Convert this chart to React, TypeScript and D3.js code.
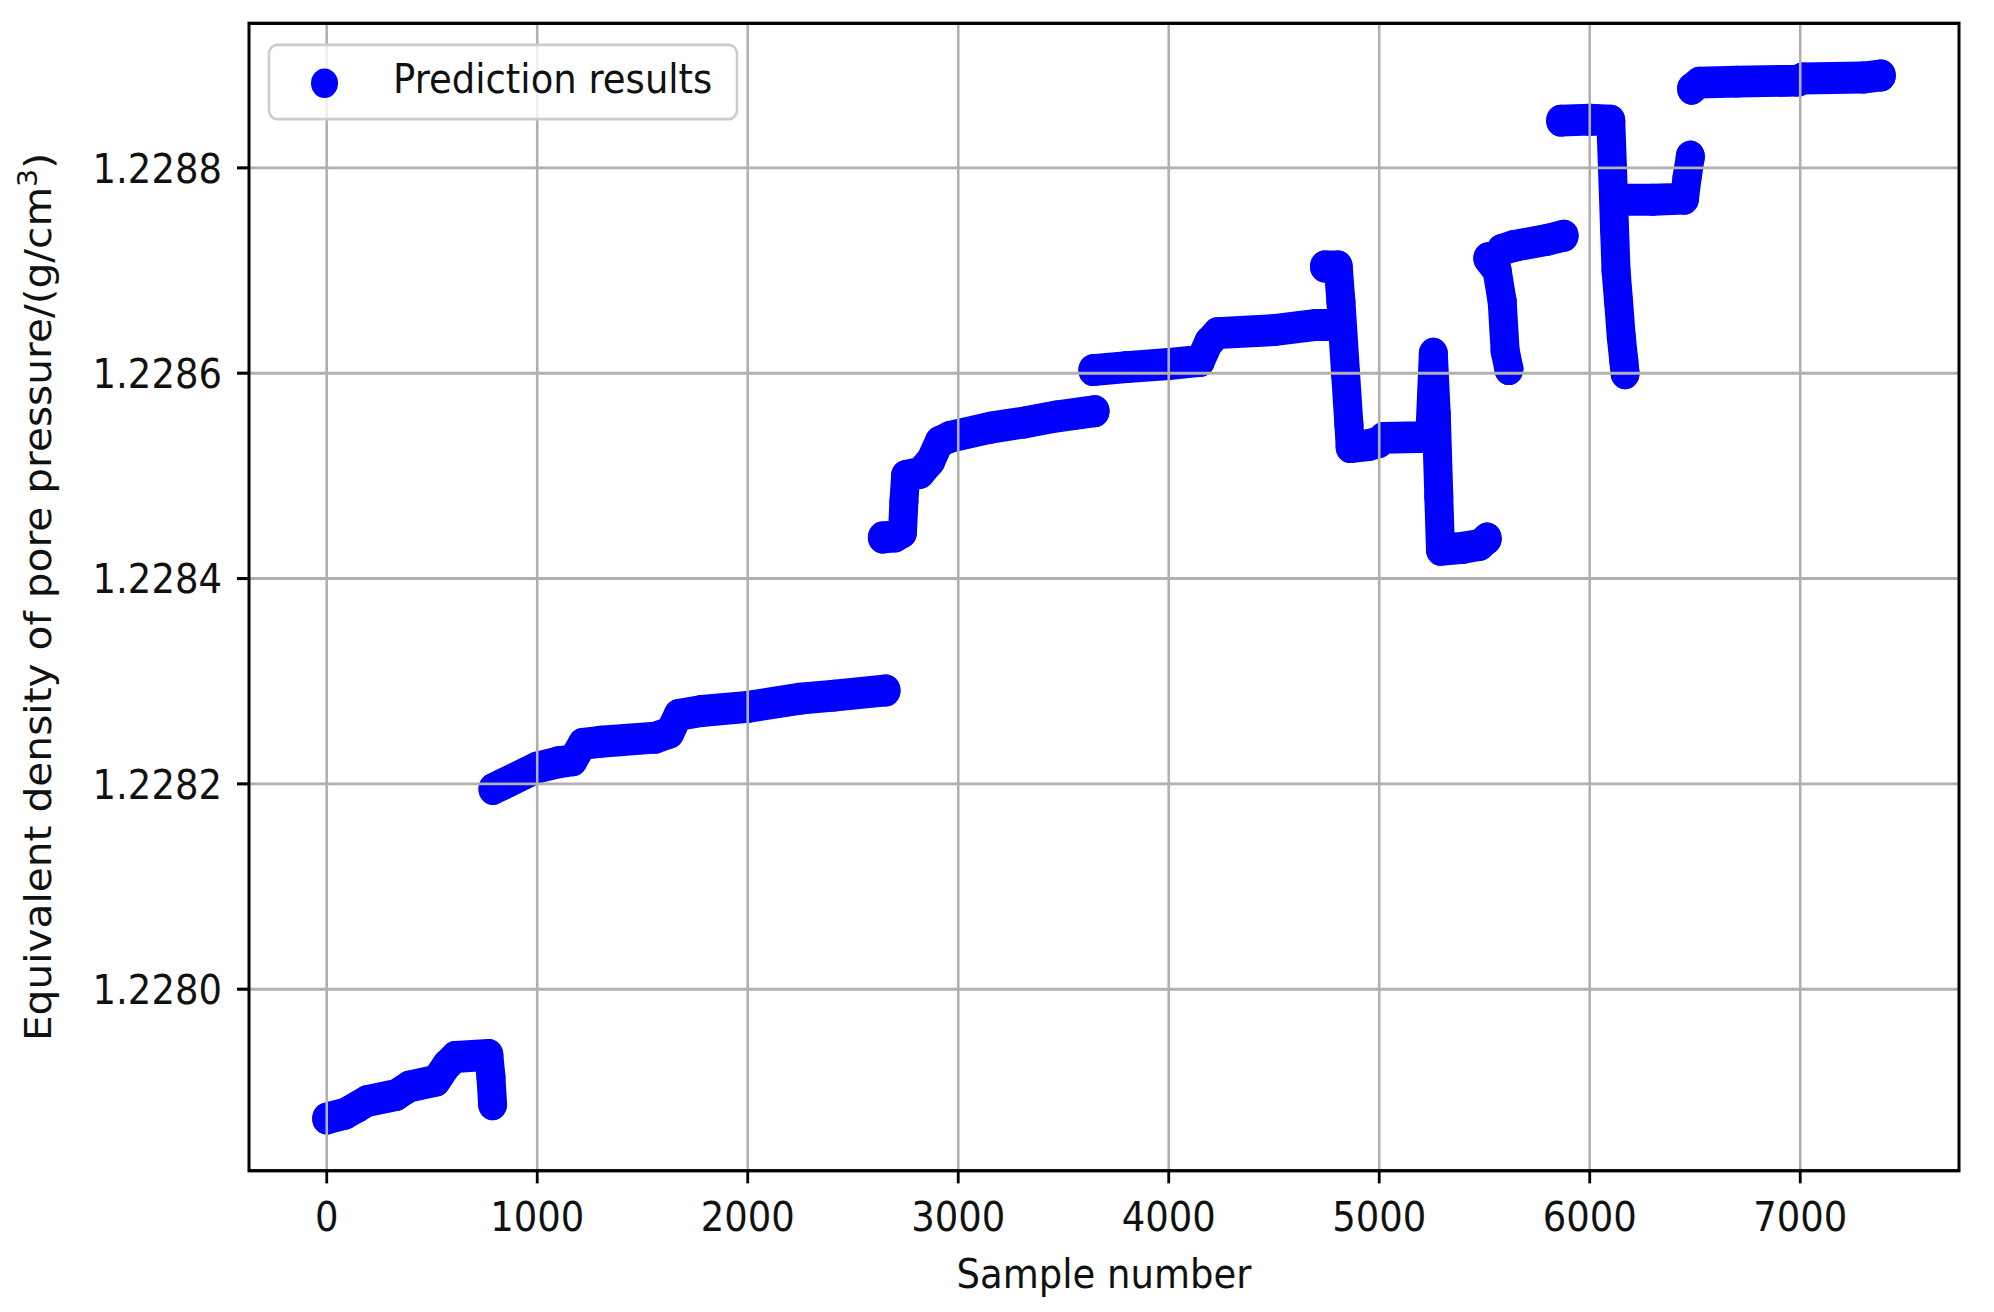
import React from "react";
import * as d3 from "d3";

// ---- data: [sample number, equivalent density (g/cm3)] ----
const segmentA: [number, number][] = [
  [0, 1.227874], [90, 1.227879], [150, 1.227886], [190, 1.227891], [330, 1.227897],
  [390, 1.227905], [520, 1.227911], [570, 1.227926], [610, 1.227934], [770, 1.227936],
  [780, 1.227915], [788, 1.227888],
];
const segmentB: [number, number][] = [
  [790, 1.228195], [830, 1.228199], [1000, 1.228216], [1100, 1.228221], [1170, 1.228223],
  [1215, 1.228239], [1300, 1.228241], [1560, 1.228245], [1630, 1.22825], [1670, 1.228267],
  [1780, 1.228271], [2000, 1.228275], [2250, 1.228283], [2410, 1.228286], [2657, 1.228291],
];
const segmentC: [number, number][] = [
  [2640, 1.22844], [2700, 1.228441], [2735, 1.228445], [2742, 1.228475], [2750, 1.2285],
  [2820, 1.228503], [2870, 1.228515], [2910, 1.228533], [2960, 1.228538], [3154, 1.228547],
  [3313, 1.228552], [3471, 1.228558], [3650, 1.228563],
];
const segmentD: [number, number][] = [
  [3640, 1.228603], [3800, 1.228606], [4000, 1.228609], [4150, 1.228612], [4190, 1.22863],
  [4230, 1.228639], [4500, 1.228642], [4700, 1.228647], [4820, 1.228647],
];
const segmentE: [number, number][] = [
  [4740, 1.228704], [4805, 1.228704], [4818, 1.22867], [4840, 1.2286], [4856, 1.22855],
  [4862, 1.228528], [4950, 1.22853], [5000, 1.228533], [5020, 1.228537], [5240, 1.228538],
  [5257, 1.228619], [5271, 1.22856], [5283, 1.22848], [5291, 1.228428], [5400, 1.22843],
  [5480, 1.228433], [5513, 1.228439],
];
const segmentF1: [number, number][] = [
  [5516, 1.228712], [5560, 1.2287], [5584, 1.22867], [5598, 1.228622], [5616, 1.228604],
];
const segmentF2: [number, number][] = [
  [5580, 1.22872], [5640, 1.228724], [5800, 1.22873], [5878, 1.228734],
];
const segmentG1: [number, number][] = [
  [5862, 1.228846], [6000, 1.228847], [6100, 1.228846], [6108, 1.2288], [6118, 1.22874],
  [6125, 1.2287], [6137, 1.22867], [6150, 1.228635], [6162, 1.228612], [6168, 1.2286],
];
const segmentG2: [number, number][] = [
  [6118, 1.228769], [6300, 1.228769], [6450, 1.22877], [6462, 1.22879], [6478, 1.228811],
];
const segmentH: [number, number][] = [
  [6484, 1.228877], [6520, 1.228883], [6700, 1.228884], [6990, 1.228885], [7010, 1.228887],
  [7300, 1.228888], [7385, 1.22889],
];
const segments = [
  segmentA, segmentB, segmentC, segmentD, segmentE,
  segmentF1, segmentF2, segmentG1, segmentG2, segmentH,
];

const xTicks = [0, 1000, 2000, 3000, 4000, 5000, 6000, 7000];
const yTicks = [1.228, 1.2282, 1.2284, 1.2286, 1.2288];
const xLabel = "Sample number";
const yLabelMain = "Equivalent density of pore pressure/(g/cm";
const legendLabel = "Prediction results";

// ---- layout ----
const W = 1994;
const H = 1312;
const STRETCH = 1.1;
const left = 249;
const right = 1959;
const top = 21.2;
const bottom = 1064.3;
const FONT = "'DejaVu Sans', sans-serif";
const FS = 37;
const BLUE = "#0000ff";
const R = 14.5;

export default function App() {
  const all = segments.flat();
  const [x0, x1] = d3.extent(all, (d) => d[0]) as [number, number];
  const [y0, y1] = d3.extent(all, (d) => d[1]) as [number, number];
  const xr = x1 - x0;
  const yr = y1 - y0;
  const x = d3.scaleLinear().domain([x0 - 0.05 * xr, x1 + 0.05 * xr]).range([left, right]);
  const y = d3.scaleLinear().domain([y0 - 0.05 * yr, y1 + 0.05 * yr]).range([bottom, top]);
  const line = d3
    .line<[number, number]>()
    .x((d) => x(d[0]))
    .y((d) => y(d[1]));

  return (
    <svg
      width={W}
      height={H}
      style={{ position: "absolute", left: 0, top: 0, background: "#fff" }}
    >
      <rect x={0} y={0} width={W} height={H} fill="#fff" />
      <g transform={`scale(1,${STRETCH})`} fontFamily={FONT}>
        {/* data */}
        <g>
          {segments.map((seg, i) => (
            <path
              key={"p" + i}
              d={line(seg) || ""}
              fill="none"
              stroke={BLUE}
              strokeWidth={2 * R}
              strokeLinejoin="round"
              strokeLinecap="round"
            />
          ))}
          {all.map((d, i) => (
            <circle key={"c" + i} cx={x(d[0])} cy={y(d[1])} r={R} fill={BLUE} />
          ))}
        </g>
        {/* grid (drawn above scatter, as in matplotlib) */}
        <g stroke="#b0b0b0" strokeWidth={2.6}>
          {xTicks.map((t) => (
            <line key={"gx" + t} x1={x(t)} x2={x(t)} y1={top} y2={bottom} />
          ))}
          {yTicks.map((t) => (
            <line key={"gy" + t} x1={left} x2={right} y1={y(t)} y2={y(t)} />
          ))}
        </g>
        {/* spines */}
        <rect
          x={left}
          y={top}
          width={right - left}
          height={bottom - top}
          fill="none"
          stroke="#000"
          strokeWidth={3}
        />
        {/* x ticks */}
        {xTicks.map((t) => (
          <g key={"tx" + t}>
            <line x1={x(t)} x2={x(t)} y1={bottom} y2={bottom + 11.5} stroke="#000" strokeWidth={2.8} />
            <text x={x(t)} y={1119} textAnchor="middle" fontSize={FS} fill="#111">
              {t}
            </text>
          </g>
        ))}
        {/* y ticks */}
        {yTicks.map((t) => (
          <g key={"ty" + t}>
            <line x1={left - 12} x2={left} y1={y(t)} y2={y(t)} stroke="#000" strokeWidth={2.8} />
            <text x={222} y={y(t)} dy="0.36em" textAnchor="end" fontSize={FS} fill="#111">
              {d3.format(".4f")(t)}
            </text>
          </g>
        ))}
        {/* axis labels */}
        <text x={(left + right) / 2} y={1171} textAnchor="middle" fontSize={FS} fill="#111">
          {xLabel}
        </text>
        <text
          transform={`translate(51,${(top + bottom) / 2}) rotate(-90)`}
          textAnchor="middle"
          fontSize={FS}
          fill="#111"
        >
          {yLabelMain}
          <tspan fontSize={FS * 0.7} dy={-14}>3</tspan>
          <tspan dy={14}>)</tspan>
        </text>
        {/* legend */}
        <g>
          <rect
            x={269}
            y={40.9}
            width={468}
            height={67.3}
            rx={8}
            fill="#fff"
            fillOpacity={0.8}
            stroke="#cccccc"
            strokeWidth={2.5}
          />
          <circle cx={324.5} cy={75.7} r={13.5} fill={BLUE} />
          <text x={393} y={84.8} fontSize={FS} fill="#111">
            {legendLabel}
          </text>
        </g>
      </g>
    </svg>
  );
}
